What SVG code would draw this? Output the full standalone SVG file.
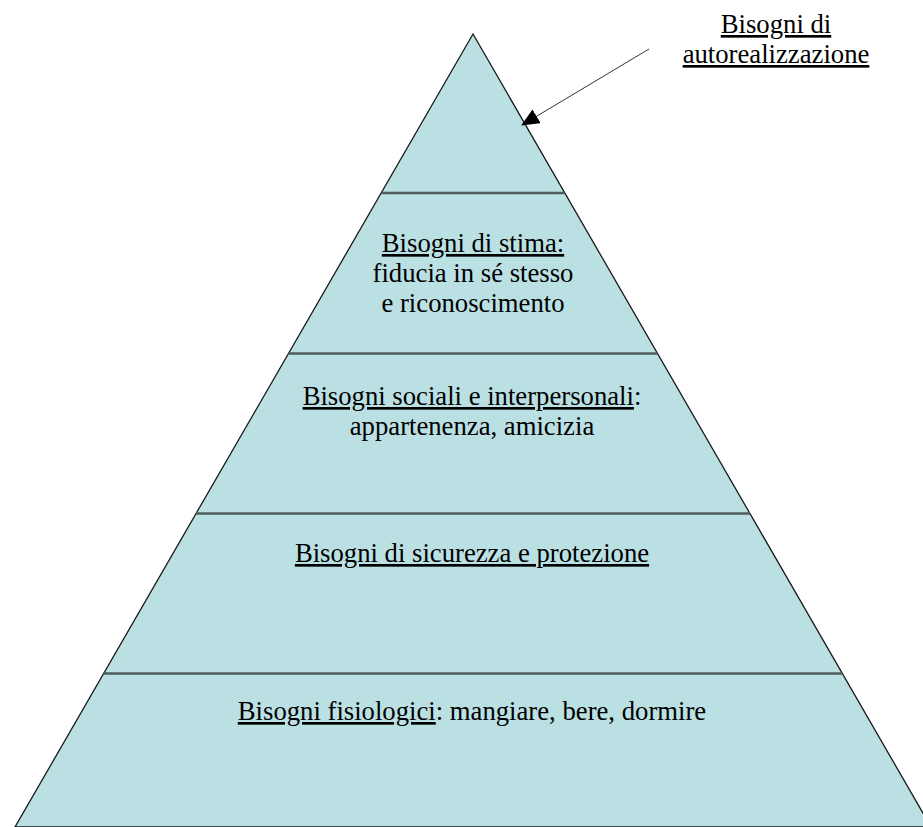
<svg xmlns="http://www.w3.org/2000/svg" width="923" height="827" viewBox="0 0 923 827">
<defs>
<style>
.t{font-size:26.7px;fill:#000;text-anchor:middle}
.u{text-decoration:underline}
.div{stroke:#4e5d60;stroke-width:2.5}
</style>
<marker id="ah" markerWidth="18" markerHeight="16" refX="17" refY="8" orient="auto" markerUnits="userSpaceOnUse">
<path d="M0,0 L18,8 L0,16 Z" fill="#000"/>
</marker>
</defs>
<rect width="923" height="827" fill="#fff"/>
<g id="pyramid">
<polygon points="473,34 15,827 931,827" fill="#bae0e3" stroke="#1a1a1a" stroke-width="1.3"/>
<line class="div" x1="381.5" y1="193" x2="564.5" y2="193"/>
<line class="div" x1="288.5" y1="353.5" x2="657.5" y2="353.5"/>
<line class="div" x1="196" y1="513.5" x2="750" y2="513.5"/>
<line class="div" x1="103.5" y1="673.5" x2="842.5" y2="673.5"/>
</g>
<g font-family="Liberation Serif, serif">
<g id="tier-autorealizzazione">
<text class="t" x="776" y="33"><tspan class="u">Bisogni di</tspan></text>
<text class="t" x="776" y="63"><tspan class="u">autorealizzazione</tspan></text>
</g>
<g id="tier-stima">
<text class="t" x="473" y="252"><tspan class="u">Bisogni di stima:</tspan></text>
<text class="t" x="473" y="282">fiducia in sé stesso</text>
<text class="t" x="473" y="312">e riconoscimento</text>
</g>
<g id="tier-sociali">
<text class="t" x="472" y="405"><tspan class="u">Bisogni sociali e interpersonali</tspan>:</text>
<text class="t" x="472" y="435">appartenenza, amicizia</text>
</g>
<g id="tier-sicurezza">
<text class="t" x="472" y="562"><tspan class="u">Bisogni di sicurezza e protezione</tspan></text>
</g>
<g id="tier-fisiologici">
<text class="t" x="472" y="720"><tspan class="u">Bisogni fisiologici</tspan>: mangiare, bere, dormire</text>
</g>
</g>
<g id="connectors">
<line x1="649" y1="49" x2="522" y2="125" stroke="#333" stroke-width="1" marker-end="url(#ah)"/>
</g>
</svg>
